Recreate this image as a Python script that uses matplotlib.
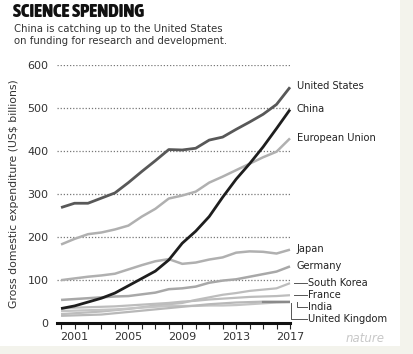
import matplotlib
matplotlib.use("Agg")
import matplotlib.pyplot as plt
from matplotlib.patches import Rectangle
from matplotlib import font_manager
import matplotlib.patheffects as pe

years = list(range(2000, 2018))
united_states = [268, 278, 278, 290, 302, 326, 352, 377, 403, 402, 406, 425, 432, 450, 467, 485, 508, 548]
china = [33, 39, 48, 57, 69, 86, 103, 120, 146, 185, 213, 247, 292, 334, 370, 409, 452, 496]
european_union = [182, 195, 206, 210, 217, 226, 247, 265, 289, 296, 305, 326, 340, 355, 370, 385, 398, 429]
japan = [99, 103, 107, 110, 114, 124, 134, 143, 148, 137, 140, 147, 152, 163, 166, 165, 161, 170]
germany = [53, 55, 57, 59, 61, 62, 66, 70, 78, 80, 84, 93, 98, 101, 107, 113, 119, 131]
south_korea = [20, 22, 24, 26, 29, 32, 36, 40, 43, 46, 53, 59, 65, 69, 74, 77, 80, 92]
france = [33, 35, 36, 37, 38, 40, 42, 44, 46, 49, 51, 54, 56, 58, 60, 61, 62, 64]
india = [16, 17, 18, 19, 22, 25, 28, 31, 34, 37, 40, 43, 45, 47, 48, 49, 49, 49]
united_kingdom = [27, 28, 29, 30, 31, 33, 35, 37, 39, 39, 39, 40, 40, 41, 43, 45, 47, 48]

y_ticks = [0, 100, 200, 300, 400, 500, 600]
x_ticks = [2001, 2005, 2009, 2013, 2017]

# Pick the boldest condensed / narrow face that is installed
cands = [f for f in font_manager.fontManager.ttflist
         if ("Narrow" in f.name or "Condensed" in f.name or "ondensed" in str(f.stretch))
         and f.style == "normal"]
title_prop = font_manager.FontProperties(family="DejaVu Sans", weight="bold")
title_w = 700
if cands:
    def wnum(f):
        w = f.weight
        if isinstance(w, str):
            w = font_manager.weight_dict.get(w, 400)
        return w
    best = max(cands, key=wnum)
    title_prop = font_manager.FontProperties(fname=best.fname)
    title_w = wnum(best)

fig = plt.figure(figsize=(4.14, 3.54), dpi=100)
fig.patch.set_facecolor("#f3f3ec")
fig.add_artist(Rectangle((0, (354 - 346) / 354), 400 / 414, 346 / 354,
                         transform=fig.transFigure, facecolor="white",
                         edgecolor="none", zorder=0))

ax = fig.add_axes([57 / 414, (354 - 322.7) / 354, 233 / 414, 257.8 / 354])
ax.set_facecolor("none")
ax.set_xlim(1999.7, 2017)
ax.set_ylim(0, 600)

for v in y_ticks[1:]:
    ax.axhline(v, color="#777777", lw=0.9, ls=(0, (1, 1.5)), zorder=1)

series = [
    (european_union, "#b0b0b0", 1.8),
    (japan, "#b0b0b0", 1.8),
    (germany, "#a8a8a8", 1.8),
    (south_korea, "#bdbdbd", 1.6),
    (france, "#bdbdbd", 1.6),
    (united_kingdom, "#c4c4c4", 1.6),
    (india, "#b8b8b8", 1.6),
    (united_states, "#585858", 2.0),
    (china, "#1e1e1e", 2.0),
]
for vals, col, lw in series:
    ax.plot(years, vals, color=col, lw=lw, solid_capstyle="butt", zorder=3, clip_on=False)
ax.plot(years[-3:], india[-3:], color="#8a8a8a", lw=1.6, zorder=3)

for s in ["top", "right", "left"]:
    ax.spines[s].set_visible(False)
ax.spines["bottom"].set_linewidth(2.2)
ax.spines["bottom"].set_color("#111111")
ax.spines["bottom"].set_zorder(4)

ax.set_xticks(x_ticks)
ax.set_xticks(years, minor=True)
ax.tick_params(axis="x", which="both", direction="out", length=4, width=0.8,
               color="#222222", labelsize=8, labelcolor="#333333", pad=3)
ax.set_yticks(y_ticks)
ax.tick_params(axis="y", length=0, labelsize=8, labelcolor="#333333", pad=6)
ax.set_ylabel("Gross domestic expenditure (US$ billions)", fontsize=7.8,
              color="#333333", labelpad=6)

# End labels
lab_kw = dict(fontsize=7.1, color="#222222", va="center", transform=ax.transData,
              clip_on=False)
ax.text(2017.5, 550, "United States", **lab_kw)
ax.text(2017.5, 498, "China", **lab_kw)
ax.text(2017.5, 430, "European Union", **lab_kw)
ax.text(2017.5, 171, "Japan", **lab_kw)
ax.text(2017.5, 133, "Germany", **lab_kw)

xr = 2018.35
ax.text(xr, 92, "South Korea", **lab_kw)
ax.text(xr, 64, "France", **lab_kw)
ax.text(xr, 37, "India", **lab_kw)
ax.text(xr, 9, "United Kingdom", **lab_kw)
ln_kw = dict(color="#555555", lw=0.7, clip_on=False)
ax.plot([2017.3, xr - 0.1], [92, 92], **ln_kw)
ax.plot([2017.3, xr - 0.1], [64, 64], **ln_kw)
ax.plot([2017.55, 2017.55, xr - 0.1], [49, 37, 37], **ln_kw)
ax.plot([2017.05, 2017.05, xr - 0.1], [45, 9, 9], **ln_kw)

title_prop.set_size(13.5)
t = fig.text(13 / 414, 1 - 3 / 354, "SCIENCE SPENDING", fontproperties=title_prop,
             color="#111111", va="top", ha="left")
if title_w < 700:
    t.set_path_effects([pe.withStroke(linewidth=1.3, foreground="#111111")])

fig.text(14 / 414, 1 - 24 / 354,
         "China is catching up to the United States\non funding for research and development.",
         fontsize=7.3, color="#333333", va="top", ha="left", linespacing=1.2)

fig.text(365 / 414, 1 - 339 / 354, "nature", fontsize=8.5, color="#c8c8c8",
         ha="center", va="center", style="italic")

fig.savefig("out.png", dpi=100)
